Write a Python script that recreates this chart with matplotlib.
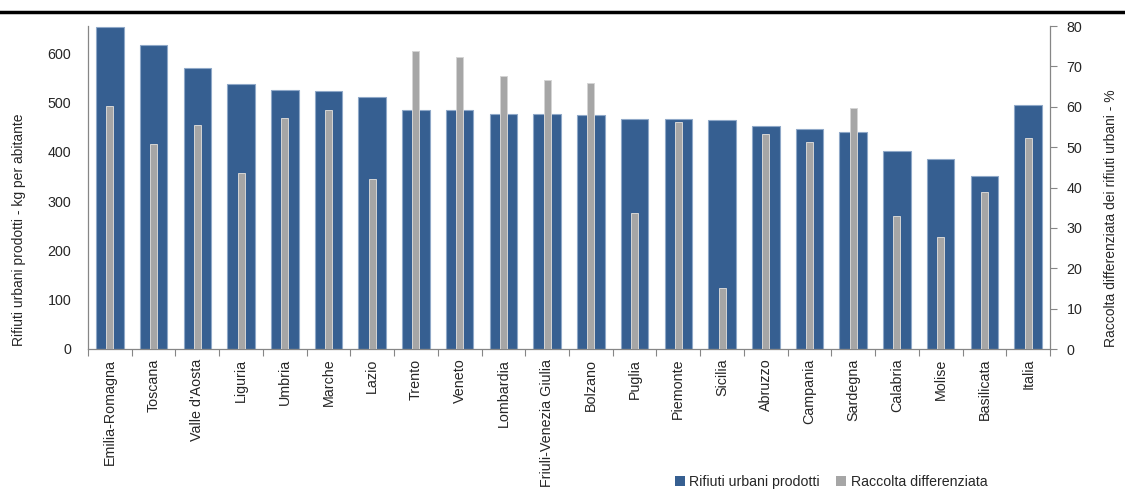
import matplotlib
matplotlib.use("Agg")
import matplotlib.pyplot as plt
from matplotlib.lines import Line2D
from matplotlib.patches import Patch
import numpy as np

plt.rcParams['font.family'] = ['Liberation Sans', 'DejaVu Sans']

regions = ["Emilia-Romagna", "Toscana", "Valle d'Aosta", "Liguria", "Umbria", "Marche",
           "Lazio", "Trento", "Veneto", "Lombardia", "Friuli-Venezia Giulia", "Bolzano",
           "Puglia", "Piemonte", "Sicilia", "Abruzzo", "Campania", "Sardegna", "Calabria",
           "Molise", "Basilicata", "Italia"]

# kg per inhabitant
rifiuti_prodotti = [653, 616, 570, 537, 526, 524, 512, 485, 485, 476, 476, 474,
                    467, 467, 464, 453, 447, 441, 402, 385, 351, 495]

# separate collection, %
raccolta_diff = [60.2, 50.7, 55.4, 43.5, 57.1, 59.2, 42.0, 73.9, 72.4, 67.7, 66.7, 65.9,
                 33.8, 56.1, 15.0, 53.3, 51.2, 59.7, 32.9, 27.7, 38.8, 52.3]

left_ticks = [0, 100, 200, 300, 400, 500, 600]
right_ticks = [0, 10, 20, 30, 40, 50, 60, 70, 80]

blue = '#365F91'
grey = '#A6A6A6'
spine_col = '#868686'
text_col = '#262626'

fig = plt.figure(figsize=(11.25, 5.04), dpi=100)
ax = fig.add_axes([88 / 1125, (504 - 349) / 504, (1050 - 88) / 1125, 323 / 504])
ax2 = ax.twinx()

x = np.arange(len(regions))
ax.bar(x, rifiuti_prodotti, width=0.63, color=blue, edgecolor='#8FA8C8', linewidth=0.8,
       label='Rifiuti urbani prodotti', zorder=2)
ax2.bar(x, raccolta_diff, width=0.16, color=grey, edgecolor='#D5D5D5', linewidth=0.7,
        label='Raccolta differenziata', zorder=3)

ax.set_xlim(-0.5, len(regions) - 0.5)
ax.set_ylim(0, 655)
ax2.set_ylim(0, 80)

ax.set_yticks(left_ticks)
ax2.set_yticks(right_ticks)

# category ticks at the boundaries between bars
ax.set_xticks(np.arange(len(regions) + 1) - 0.5, minor=False)
ax.set_xticklabels([])
ax.set_xticks(x, minor=True)
ax.set_xticklabels(regions, minor=True, rotation=90, fontsize=10.3, color=text_col)
ax.tick_params(axis='x', which='major', length=5, color=spine_col, direction='out')
ax.tick_params(axis='x', which='minor', length=0, pad=7)

ax.tick_params(axis='y', length=0, labelsize=10.3, labelcolor=text_col, pad=12)
ax2.tick_params(axis='y', length=5, color=spine_col, labelsize=10.3, labelcolor=text_col, pad=7)

for a in (ax, ax2):
    a.spines['top'].set_visible(False)
    for s in ('left', 'right', 'bottom'):
        a.spines[s].set_color(spine_col)
        a.spines[s].set_linewidth(0.9)
ax.spines['right'].set_visible(False)
ax2.spines['left'].set_visible(False)
ax2.spines['bottom'].set_visible(False)

ax.set_ylabel('Rifiuti urbani prodotti - kg per abitante', fontsize=10, color=text_col)
ax.yaxis.set_label_coords(-0.0645, 0.37)
ax2.set_ylabel('Raccolta differenziata dei rifiuti urbani - %', fontsize=10, color=text_col)
ax2.yaxis.set_label_coords(1.0 + 54 / 962, 0.405)

# horizontal rule across the top of the figure
fig.add_artist(Line2D([0, 1], [1 - 12 / 504, 1 - 12 / 504], color='black', linewidth=2.5,
                      transform=fig.transFigure))

handles = [Patch(facecolor=blue, edgecolor='none'), Patch(facecolor=grey, edgecolor='none')]
fig.legend(handles, ['Rifiuti urbani prodotti', 'Raccolta differenziata'],
           loc='center', bbox_to_anchor=(831 / 1125, 1 - 482 / 504), ncol=2, frameon=False,
           fontsize=10.2, handlelength=0.7, handleheight=0.7, handletextpad=0.3,
           columnspacing=1.2, labelcolor=text_col)

fig.savefig('out.png', dpi=100)
